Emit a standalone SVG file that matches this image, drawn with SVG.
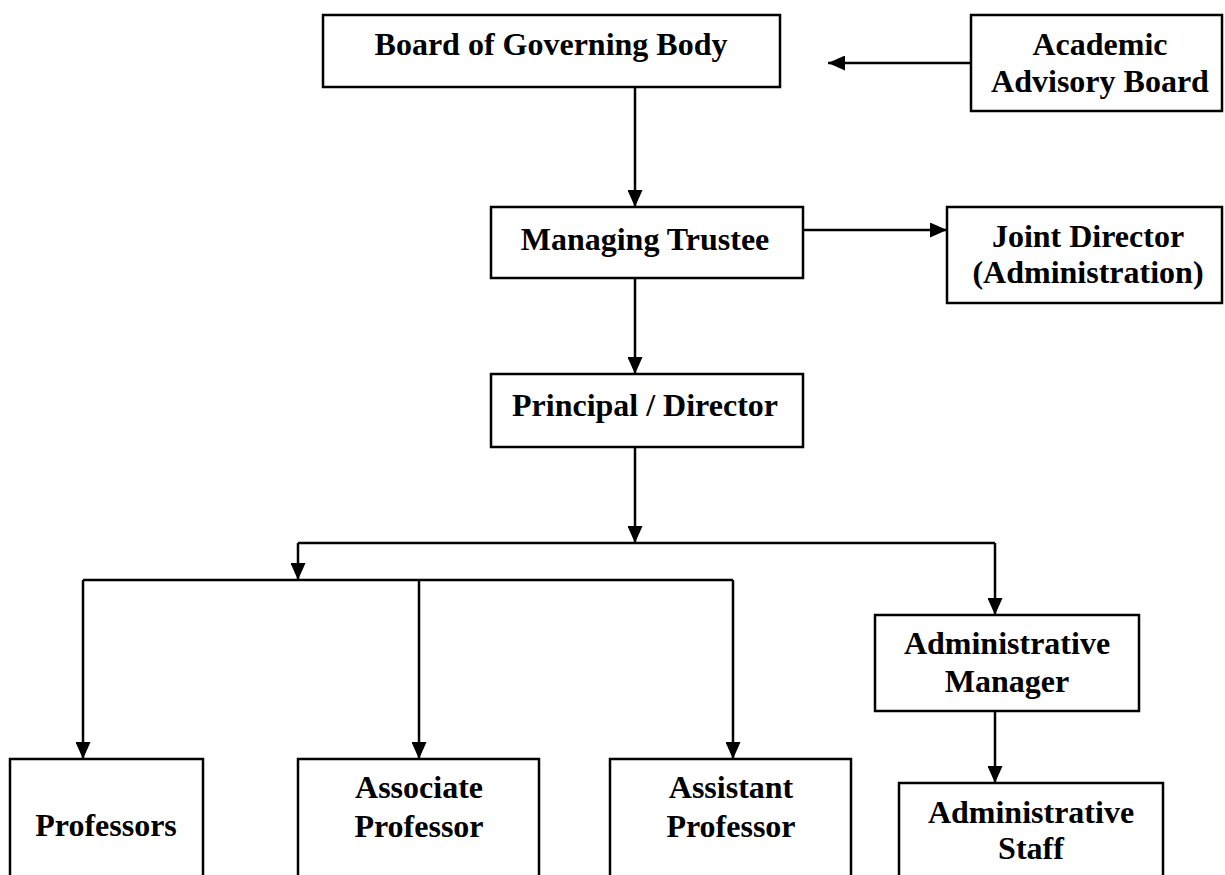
<svg xmlns="http://www.w3.org/2000/svg" width="1225" height="875" viewBox="0 0 1225 875">
<style>
.box{fill:#fff;stroke:#000;stroke-width:2.5}
.lbl{font-family:"Liberation Serif","Times New Roman",serif;font-weight:bold;font-size:32px;fill:#000;text-anchor:middle}
.con{fill:none;stroke:#000;stroke-width:2.5}
</style>
<defs>
<marker id="arr" markerUnits="userSpaceOnUse" markerWidth="17" markerHeight="15" refX="17" refY="7.5" orient="auto">
<path d="M0,0 L17,7.5 L0,15 z" fill="#000"/>
</marker>
</defs>
<rect width="1225" height="875" fill="#fff"/>
<g id="connectors">
<path class="con" d="M635,87 V207" marker-end="url(#arr)"/>
<path class="con" d="M971,63 H828" marker-end="url(#arr)"/>
<path class="con" d="M803,230 H947" marker-end="url(#arr)"/>
<path class="con" d="M635,278 V374" marker-end="url(#arr)"/>
<path class="con" d="M635,447 V543" marker-end="url(#arr)"/>
<path class="con" d="M298,543 H995"/>
<path class="con" d="M298,543 V580" marker-end="url(#arr)"/>
<path class="con" d="M995,543 V615" marker-end="url(#arr)"/>
<path class="con" d="M83,580 H733"/>
<path class="con" d="M83,580 V759" marker-end="url(#arr)"/>
<path class="con" d="M419,580 V759" marker-end="url(#arr)"/>
<path class="con" d="M733,580 V759" marker-end="url(#arr)"/>
<path class="con" d="M995,711 V783" marker-end="url(#arr)"/>
</g>
<g id="board">
<rect class="box" x="323" y="15" width="457" height="72"/>
<text class="lbl" x="551" y="55">Board of Governing Body</text>
</g>
<g id="academic">
<rect class="box" x="971" y="15" width="251" height="96"/>
<text class="lbl" x="1100" y="55">Academic</text>
<text class="lbl" x="1100" y="92">Advisory Board</text>
</g>
<g id="managing">
<rect class="box" x="491" y="207" width="312" height="71"/>
<text class="lbl" x="645" y="250">Managing Trustee</text>
</g>
<g id="joint">
<rect class="box" x="947" y="207" width="275" height="96"/>
<text class="lbl" x="1088" y="247">Joint Director</text>
<text class="lbl" x="1088" y="283">(Administration)</text>
</g>
<g id="principal">
<rect class="box" x="491" y="374" width="312" height="73"/>
<text class="lbl" x="645" y="416">Principal / Director</text>
</g>
<g id="adminmanager">
<rect class="box" x="875" y="615" width="264" height="96"/>
<text class="lbl" x="1007" y="654">Administrative</text>
<text class="lbl" x="1007" y="692">Manager</text>
</g>
<g id="professors">
<rect class="box" x="10" y="759" width="193" height="130"/>
<text class="lbl" x="106" y="836">Professors</text>
</g>
<g id="associate">
<rect class="box" x="298" y="759" width="241" height="130"/>
<text class="lbl" x="419" y="798">Associate</text>
<text class="lbl" x="419" y="837">Professor</text>
</g>
<g id="assistant">
<rect class="box" x="610" y="759" width="241" height="130"/>
<text class="lbl" x="731" y="798">Assistant</text>
<text class="lbl" x="731" y="837">Professor</text>
</g>
<g id="adminstaff">
<rect class="box" x="899" y="783" width="264" height="110"/>
<text class="lbl" x="1031" y="823">Administrative</text>
<text class="lbl" x="1031" y="859">Staff</text>
</g>
</svg>
